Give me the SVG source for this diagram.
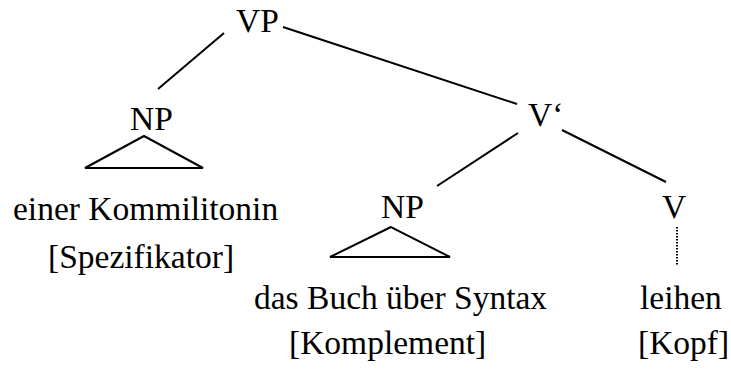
<svg xmlns="http://www.w3.org/2000/svg" width="731" height="374" viewBox="0 0 731 374">
<style>
text { font-family: "Liberation Serif", "Times New Roman", serif; font-size: 33.5px; fill: #000; }
.e { stroke: #000; stroke-width: 2; fill: none; }
.dot { stroke: #000; stroke-width: 2; stroke-dasharray: 1.5 1.5; fill: none; }
</style>
<rect width="731" height="374" fill="#fff"/>
<g id="connectors">
<line class="e" x1="224" y1="33" x2="158" y2="89"/>
<line class="e" x1="283" y1="27" x2="517" y2="104"/>
<line class="e" x1="518" y1="133" x2="437" y2="186"/>
<line class="e" x1="562" y1="130" x2="666" y2="182"/>
<line class="dot" x1="677" y1="227" x2="677" y2="265"/>
</g>
<g id="VP"><text x="236" y="32">VP</text></g>
<g id="NP1">
<text x="130" y="130">NP</text>
<polygon class="e" points="144,136 85,168 203,168"/>
</g>
<g id="Vbar"><text x="528" y="126">V‘</text></g>
<g id="NP2">
<text x="381" y="218">NP</text>
<polygon class="e" points="391,227 330,257 450,257"/>
</g>
<g id="V"><text x="662" y="218">V</text></g>
<g id="spec">
<text x="13" y="220">einer Kommilitonin</text>
<text x="48" y="268">[Spezifikator]</text>
</g>
<g id="komp">
<text x="254" y="309">das Buch über Syntax</text>
<text x="289" y="354">[Komplement]</text>
</g>
<g id="kopf">
<text x="640" y="309">leihen</text>
<text x="638" y="354">[Kopf]</text>
</g>
</svg>
